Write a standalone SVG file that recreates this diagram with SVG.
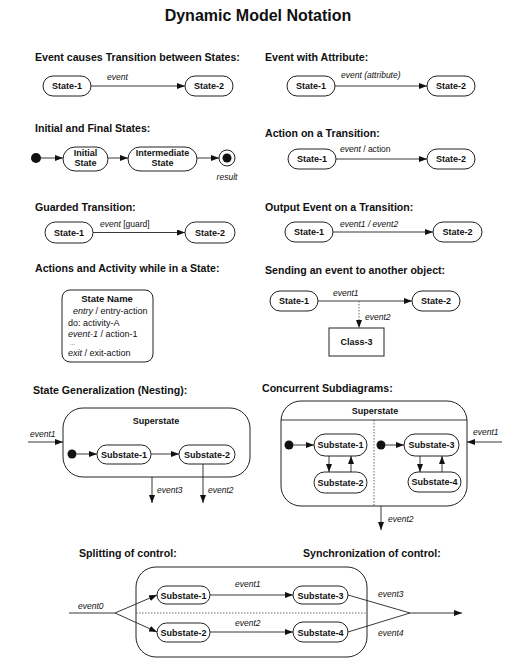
<svg xmlns="http://www.w3.org/2000/svg" width="515" height="665" viewBox="0 0 515 665">
<defs>
<marker id="ah" markerWidth="8" markerHeight="6" refX="8" refY="3" orient="auto" markerUnits="userSpaceOnUse">
<path d="M0,0 L8,3 L0,6 z" fill="#111"/>
</marker>
<style>
text{font-family:"Liberation Sans",Arial,sans-serif;fill:#111}
.title{font-size:16px;font-weight:bold;text-anchor:middle}
.h{font-size:10.6px;font-weight:bold}
.s{font-size:9px;font-weight:bold;text-anchor:middle}
.l{font-size:8.5px;font-style:italic}
.r{font-size:9px}
.i{font-style:italic}
.n{font-style:normal}
.box{fill:#fff;stroke:#222;stroke-width:1}
.ln{fill:none;stroke:#222;stroke-width:0.9}
.arr{fill:none;stroke:#222;stroke-width:0.9;marker-end:url(#ah)}
.dot{fill:none;stroke:#444;stroke-width:0.8;stroke-dasharray:1.5 1.5}
.darr{fill:none;stroke:#444;stroke-width:0.8;stroke-dasharray:1.5 1.5;marker-end:url(#ah)}
.fill{fill:#111}
</style>
</defs>
<rect width="515" height="665" fill="#fff"/>
<text class="title" x="258" y="21">Dynamic Model Notation</text>

<g id="headings">
<text class="h" x="35" y="61">Event causes Transition between States:</text>
<text class="h" x="35" y="132">Initial and Final States:</text>
<text class="h" x="35" y="211">Guarded Transition:</text>
<text class="h" x="35" y="272">Actions and Activity while in a State:</text>
<text class="h" x="265" y="61">Event with Attribute:</text>
<text class="h" x="265" y="137">Action on a Transition:</text>
<text class="h" x="265" y="211">Output Event on a Transition:</text>
<text class="h" x="265" y="274">Sending an event to another object:</text>
<text class="h" x="33" y="394">State Generalization (Nesting):</text>
<text class="h" x="262" y="392">Concurrent Subdiagrams:</text>
<text class="h" x="79" y="557">Splitting of control:</text>
<text class="h" x="303" y="557">Synchronization of control:</text>
</g>

<!-- Section 1 -->
<g id="s1-state1"><rect class="box" x="43" y="76" width="48" height="20" rx="10"/><text class="s" x="67" y="89">State-1</text></g>
<g id="s1-state2"><rect class="box" x="185" y="76" width="48" height="20" rx="10"/><text class="s" x="209" y="89">State-2</text></g>

<!-- Section 2 -->
<g id="s2-init"><circle class="fill" cx="36" cy="158" r="5"/></g>
<g id="s2-initial"><rect class="box" x="63" y="147" width="45" height="24" rx="12"/><text class="s" x="85.5" y="156">Initial</text><text class="s" x="85.5" y="166">State</text></g>
<g id="s2-inter"><rect class="box" x="128" y="147" width="69" height="24" rx="12"/><text class="s" x="162.5" y="156">Intermediate</text><text class="s" x="162.5" y="166">State</text></g>
<g id="s2-final"><circle class="box" cx="227" cy="158" r="8"/><circle class="fill" cx="227" cy="158" r="4.5"/></g>

<!-- Section 3 -->
<g id="s3-state1"><rect class="box" x="45" y="222" width="48" height="21" rx="10.5"/><text class="s" x="69" y="235.5">State-1</text></g>
<g id="s3-state2"><rect class="box" x="185" y="222" width="50" height="21" rx="10.5"/><text class="s" x="210" y="235.5">State-2</text></g>

<!-- Section 4 -->
<g id="s4-state">
<rect class="box" x="62" y="290" width="91" height="72" rx="8"/>
<text class="s" x="107" y="302" style="font-size:9.5px">State Name</text>
<text class="r" x="73" y="314"><tspan class="i">entry</tspan> / entry-action</text>
<text class="r" x="68" y="326">do: activity-A</text>
<text class="r" x="68" y="337"><tspan class="i">event-1</tspan> / action-1</text>
<text class="r" x="70" y="345" style="font-size:6px">...</text>
<text class="r" x="68" y="356"><tspan class="i">exit</tspan> / exit-action</text>
</g>

<!-- Right column -->
<g id="r1-state1"><rect class="box" x="287" y="76" width="48" height="20" rx="10"/><text class="s" x="311" y="89">State-1</text></g>
<g id="r1-state2"><rect class="box" x="427" y="76" width="48" height="20" rx="10"/><text class="s" x="451" y="89">State-2</text></g>

<g id="r2-state1"><rect class="box" x="288" y="149" width="48" height="20" rx="10"/><text class="s" x="312" y="162">State-1</text></g>
<g id="r2-state2"><rect class="box" x="427" y="149" width="48" height="20" rx="10"/><text class="s" x="451" y="162">State-2</text></g>

<g id="r3-state1"><rect class="box" x="285" y="222" width="48" height="20" rx="10"/><text class="s" x="309" y="235">State-1</text></g>
<g id="r3-state2"><rect class="box" x="433" y="222" width="49" height="20" rx="10"/><text class="s" x="457.5" y="235">State-2</text></g>

<g id="r4-state1"><rect class="box" x="270" y="291" width="48" height="20" rx="10"/><text class="s" x="294" y="304">State-1</text></g>
<g id="r4-state2"><rect class="box" x="412" y="291" width="48" height="20" rx="10"/><text class="s" x="436" y="304">State-2</text></g>
<g id="r4-class3"><rect class="box" x="329" y="328" width="55" height="28"/><text class="s" x="356.5" y="345">Class-3</text></g>

<!-- Nesting -->
<g id="n-super"><rect class="box" x="63" y="408" width="187" height="69" rx="20"/><text class="s" x="156" y="424">Superstate</text></g>
<g id="n-init"><circle class="fill" cx="72" cy="454" r="4.5"/></g>
<g id="n-sub1"><rect class="box" x="97" y="445" width="54" height="19" rx="9.5"/><text class="s" x="124" y="458">Substate-1</text></g>
<g id="n-sub2"><rect class="box" x="179" y="445" width="56" height="19" rx="9.5"/><text class="s" x="207" y="458">Substate-2</text></g>

<!-- Concurrent -->
<g id="c-super"><rect class="box" x="281" y="401" width="186" height="105" rx="20"/><line class="ln" x1="281" y1="420" x2="467" y2="420"/><line class="dot" x1="374" y1="420" x2="374" y2="506"/><text class="s" x="375" y="414">Superstate</text></g>
<g id="c-init1"><circle class="fill" cx="289" cy="445" r="4.5"/></g>
<g id="c-sub1"><rect class="box" x="314" y="434" width="53" height="22" rx="11"/><text class="s" x="340.5" y="448">Substate-1</text></g>
<g id="c-sub2"><rect class="box" x="314" y="472" width="53" height="21" rx="10.5"/><text class="s" x="340.5" y="485.5">Substate-2</text></g>
<g id="c-init2"><circle class="fill" cx="381" cy="445" r="4.5"/></g>
<g id="c-sub3"><rect class="box" x="404" y="434" width="55" height="22" rx="11"/><text class="s" x="431.5" y="448">Substate-3</text></g>
<g id="c-sub4"><rect class="box" x="408" y="472" width="53" height="20" rx="10"/><text class="s" x="434.5" y="485">Substate-4</text></g>

<!-- Split / sync -->
<g id="b-super"><rect class="box" x="136" y="567" width="231" height="90" rx="20"/><line class="dot" x1="136" y1="613" x2="367" y2="613"/></g>
<g id="b-sub1"><rect class="box" x="157" y="586" width="53" height="18" rx="9"/><text class="s" x="183.5" y="598.5">Substate-1</text></g>
<g id="b-sub2"><rect class="box" x="157" y="623" width="53" height="19" rx="9.5"/><text class="s" x="183.5" y="636">Substate-2</text></g>
<g id="b-sub3"><rect class="box" x="293" y="586" width="55" height="18" rx="9"/><text class="s" x="320.5" y="598.5">Substate-3</text></g>
<g id="b-sub4"><rect class="box" x="293" y="622" width="55" height="20" rx="10"/><text class="s" x="320.5" y="635.5">Substate-4</text></g>

<g id="connectors">
<line class="arr" x1="91" y1="86" x2="185" y2="86"/>
<line class="arr" x1="41" y1="158" x2="63" y2="158"/>
<line class="arr" x1="108" y1="158" x2="128" y2="158"/>
<line class="arr" x1="197" y1="158" x2="219" y2="158"/>
<line class="arr" x1="93" y1="232.5" x2="185" y2="232.5"/>
<line class="arr" x1="335" y1="86" x2="427" y2="86"/>
<line class="arr" x1="336" y1="159" x2="427" y2="159"/>
<line class="arr" x1="333" y1="232" x2="433" y2="232"/>
<line class="arr" x1="318" y1="301" x2="412" y2="301"/>
<line class="darr" x1="359" y1="301" x2="359" y2="328"/>
<line class="arr" x1="28" y1="442" x2="63" y2="442"/>
<line class="arr" x1="76.5" y1="454" x2="97" y2="454"/>
<line class="arr" x1="151" y1="454" x2="179" y2="454"/>
<line class="arr" x1="152" y1="477" x2="152" y2="503"/>
<line class="arr" x1="203" y1="464" x2="203" y2="503"/>
<line class="arr" x1="293.5" y1="445" x2="314" y2="445"/>
<line class="arr" x1="329" y1="456" x2="329" y2="472"/>
<line class="arr" x1="351" y1="472" x2="351" y2="456"/>
<line class="arr" x1="385.5" y1="445" x2="404" y2="445"/>
<line class="arr" x1="420" y1="456" x2="420" y2="472"/>
<line class="arr" x1="442" y1="472" x2="442" y2="456"/>
<line class="arr" x1="502" y1="442" x2="467" y2="442"/>
<line class="arr" x1="381" y1="506" x2="381" y2="530"/>
<line class="ln" x1="69" y1="613" x2="115" y2="613"/>
<line class="arr" x1="115" y1="613" x2="157" y2="595"/>
<line class="arr" x1="115" y1="613" x2="157" y2="632"/>
<line class="arr" x1="210" y1="595" x2="293" y2="595"/>
<line class="arr" x1="210" y1="632" x2="293" y2="632"/>
<line class="ln" x1="348" y1="595" x2="410" y2="613"/>
<line class="ln" x1="348" y1="632" x2="410" y2="613"/>
<line class="arr" x1="410" y1="613" x2="462" y2="613"/>
</g>

<g id="labels">
<text class="l" x="107" y="80">event</text>
<text class="l" x="227" y="180" text-anchor="middle">result</text>
<text class="l" x="100" y="227">event <tspan class="n">[guard]</tspan></text>
<text class="l" x="341" y="78">event (attribute)</text>
<text class="l" x="340" y="152">event <tspan class="n">/ action</tspan></text>
<text class="l" x="340" y="227">event1 / event2</text>
<text class="l" x="333" y="296">event1</text>
<text class="l" x="365" y="320">event2</text>
<text class="l" x="30" y="437">event1</text>
<text class="l" x="157" y="493">event3</text>
<text class="l" x="208" y="493">event2</text>
<text class="l" x="473" y="435">event1</text>
<text class="l" x="388" y="522">event2</text>
<text class="l" x="78" y="609">event0</text>
<text class="l" x="235" y="587">event1</text>
<text class="l" x="235" y="626">event2</text>
<text class="l" x="378" y="597">event3</text>
<text class="l" x="378" y="636">event4</text>
</g>
</svg>
